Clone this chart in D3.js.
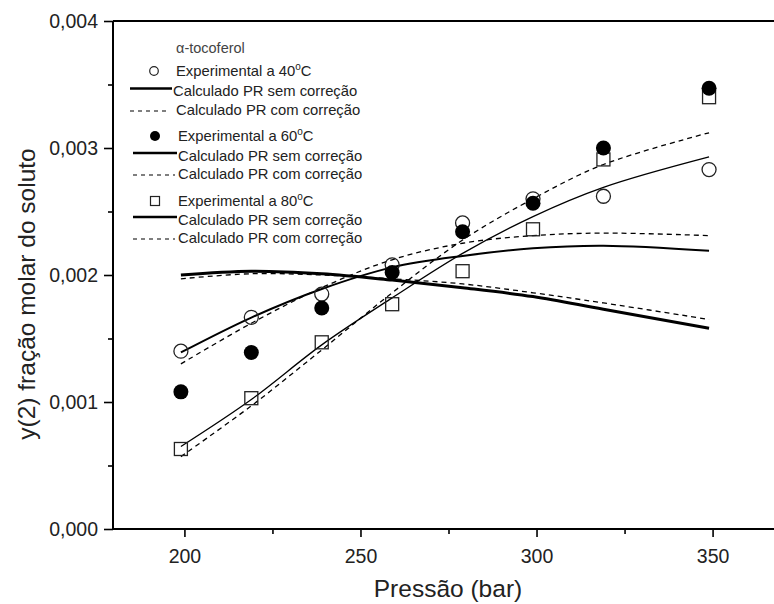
<!DOCTYPE html>
<html><head><meta charset="utf-8">
<script src="https://cdn.jsdelivr.net/npm/d3@7"></script>
<style>
body{margin:0;background:#fff;}
svg{display:block;font-family:"Liberation Sans",Arial,sans-serif;}
</style></head>
<body><svg id="c" width="774" height="604"></svg>
<script>
// ---- data ----
const pressures = [199, 219, 239, 259, 279, 299, 319, 349];
const exp40 = [0.00140, 0.001667, 0.00185, 0.00208, 0.00241, 0.00260, 0.00262, 0.00283];
const exp60 = [0.00108, 0.00139, 0.00174, 0.00202, 0.00234, 0.002565, 0.00300, 0.00347];
const exp80 = [0.00063, 0.00103, 0.00147, 0.00177, 0.00203, 0.00236, 0.00291, 0.00340];
const sem40 = [0.00139, 0.001665, 0.00189, 0.00206, 0.00215, 0.00221, 0.00223, 0.00219];
const com40 = [0.00130, 0.00162, 0.00190, 0.00212, 0.00225, 0.00231, 0.00233, 0.00231];
const sem60 = [0.00200, 0.00203, 0.00201, 0.00196, 0.00190, 0.00183, 0.00173, 0.00158];
const com60 = [0.00197, 0.00201, 0.00200, 0.00197, 0.00193, 0.00186, 0.00178, 0.00165];
const sem80 = [0.00065, 0.00102, 0.00145, 0.00182, 0.00217, 0.00246, 0.00269, 0.00293];
const com80 = [0.00057, 0.00097, 0.00141, 0.00186, 0.002275, 0.00260, 0.00287, 0.00312];
const xMajor = [200, 250, 300, 350];
const xMinor = [225, 275, 325];
const yMajor = [0, 0.001, 0.002, 0.003, 0.004];
const yMinor = [0.0005, 0.0015, 0.0025, 0.0035];
const legendTitle = "α-tocoferol";
const legendExp = ["Experimental a 40", "Experimental a 60", "Experimental a 80"];
const legendSem = "Calculado PR sem correção";
const legendCom = "Calculado PR com correção";
const xTitle = "Pressão (bar)";
const yTitle = "y(2) fração molar do soluto";

// ---- scales ----
const svg = d3.select("#c");
const x = d3.scaleLinear().domain([180, 370]).range([114, 783]);
const y = d3.scaleLinear().domain([0, 0.004]).range([529, 21]);
const fmt = v => d3.format(".3f")(v).replace(".", ",");

// frame top line
svg.append("line").attr("x1", 113).attr("x2", 790).attr("y1", y(0.004)).attr("y2", y(0.004))
  .attr("stroke", "#000").attr("stroke-width", 2);

// axes
const gx = svg.append("g").attr("transform", `translate(0,${y(0)})`)
  .call(d3.axisBottom(x).tickValues(xMajor).tickSize(8).tickPadding(12).tickFormat(d3.format("d")));
const gxm = svg.append("g").attr("transform", `translate(0,${y(0)})`)
  .call(d3.axisBottom(x).tickValues(xMinor).tickSize(5).tickFormat(""));
const gy = svg.append("g").attr("transform", `translate(113,0)`)
  .call(d3.axisLeft(y).tickValues(yMajor).tickSize(9).tickPadding(6).tickFormat(fmt));
const gym = svg.append("g").attr("transform", `translate(113,0)`)
  .call(d3.axisLeft(y).tickValues(yMinor).tickSize(5).tickFormat(""));
[gx, gxm, gy, gym].forEach(g => {
  g.selectAll(".domain").attr("stroke", "#000").attr("stroke-width", 2);
  g.selectAll(".tick line").attr("stroke", "#000").attr("stroke-width", 1.6);
  g.selectAll("text").attr("fill", "#222").attr("font-size", 19.5).attr("font-family", "Liberation Sans, Arial, sans-serif");
});
gx.select(".domain").attr("d", `M113,0H790`);
gxm.select(".domain").remove();
gym.select(".domain").remove();
gy.select(".domain").attr("d", `M0,${y(0)}V${y(0.004)}`);

// axis titles
svg.append("text").attr("x", 448).attr("y", 597).attr("text-anchor", "middle")
  .attr("font-size", 24.5).attr("fill", "#222").text(xTitle);
svg.append("text").attr("transform", `translate(35,294) rotate(-90)`)
  .attr("text-anchor", "middle").attr("font-size", 24.5).attr("fill", "#222").text(yTitle);

// lines
const line = d3.line().x((d, i) => x(pressures[i])).y(d => y(d)).curve(d3.curveCatmullRom.alpha(0.5));
const series = [
  {v: sem60, w: 3, dash: null},
  {v: com60, w: 1.3, dash: "5,4"},
  {v: sem40, w: 2, dash: null},
  {v: com40, w: 1.3, dash: "5,4"},
  {v: sem80, w: 1.3, dash: null},
  {v: com80, w: 1.3, dash: "5,4"}
];
series.forEach(s => {
  svg.append("path").attr("d", line(s.v)).attr("fill", "none").attr("stroke", "#000")
    .attr("stroke-width", s.w).attr("stroke-dasharray", s.dash);
});

// markers
svg.append("g").selectAll("rect").data(exp80).join("rect")
  .attr("x", (d, i) => x(pressures[i]) - 6.5).attr("y", d => y(d) - 6.5)
  .attr("width", 13).attr("height", 13).attr("fill", "none")
  .attr("stroke", "#222").attr("stroke-width", 1.3);
svg.append("g").selectAll("circle").data(exp40).join("circle")
  .attr("cx", (d, i) => x(pressures[i])).attr("cy", d => y(d)).attr("r", 7)
  .attr("fill", "none").attr("stroke", "#222").attr("stroke-width", 1.3);
svg.append("g").selectAll("circle").data(exp60).join("circle")
  .attr("cx", (d, i) => x(pressures[i])).attr("cy", d => y(d)).attr("r", 7.5)
  .attr("fill", "#000");

// legend
const lg = svg.append("g").attr("font-size", 14.8).attr("fill", "#222");
lg.append("text").attr("x", 176).attr("y", 53).attr("font-size", 14.5).attr("fill", "#444").text(legendTitle);
const rowsY = [[76, 96, 114.5], [141, 160.5, 178.5], [206, 224.5, 242.5]];
const markerType = ["open", "filled", "square"];
rowsY.forEach((r, k) => {
  const mx = 155 - (k === 0 ? 1 : 0);
  const tx = k === 0 ? 176 : 178;
  const my = r[0] - 5;
  if (markerType[k] === "open") lg.append("circle").attr("cx", mx).attr("cy", my).attr("r", 4.3).attr("fill", "none").attr("stroke", "#222").attr("stroke-width", 1.2);
  if (markerType[k] === "filled") lg.append("circle").attr("cx", mx).attr("cy", my).attr("r", 5).attr("fill", "#000");
  if (markerType[k] === "square") lg.append("rect").attr("x", mx - 4.5).attr("y", my - 4.5).attr("width", 9).attr("height", 9).attr("fill", "none").attr("stroke", "#222").attr("stroke-width", 1.2);
  const t = lg.append("text").attr("x", tx).attr("y", r[0]).text(legendExp[k]);
  t.append("tspan").attr("dy", -6).attr("font-size", 10).text("o");
  t.append("tspan").attr("dy", 6).text("C");
  const lx0 = k === 0 ? 130 : 133;
  const lx1 = k === 0 ? 172 : 177;
  lg.append("line").attr("x1", lx0).attr("x2", lx1).attr("y1", r[1] - 7.5).attr("y2", r[1] - 7.5)
    .attr("stroke", "#000").attr("stroke-width", 2.6);
  lg.append("text").attr("x", lx1 + 1).attr("y", r[1]).text(legendSem);
  lg.append("line").attr("x1", lx0).attr("x2", lx1 - 2).attr("y1", r[2] - 3.5).attr("y2", r[2] - 3.5)
    .attr("stroke", "#000").attr("stroke-width", 1.1).attr("stroke-dasharray", "4,4");
  lg.append("text").attr("x", tx).attr("y", r[2]).text(legendCom);
});
</script></body></html>
